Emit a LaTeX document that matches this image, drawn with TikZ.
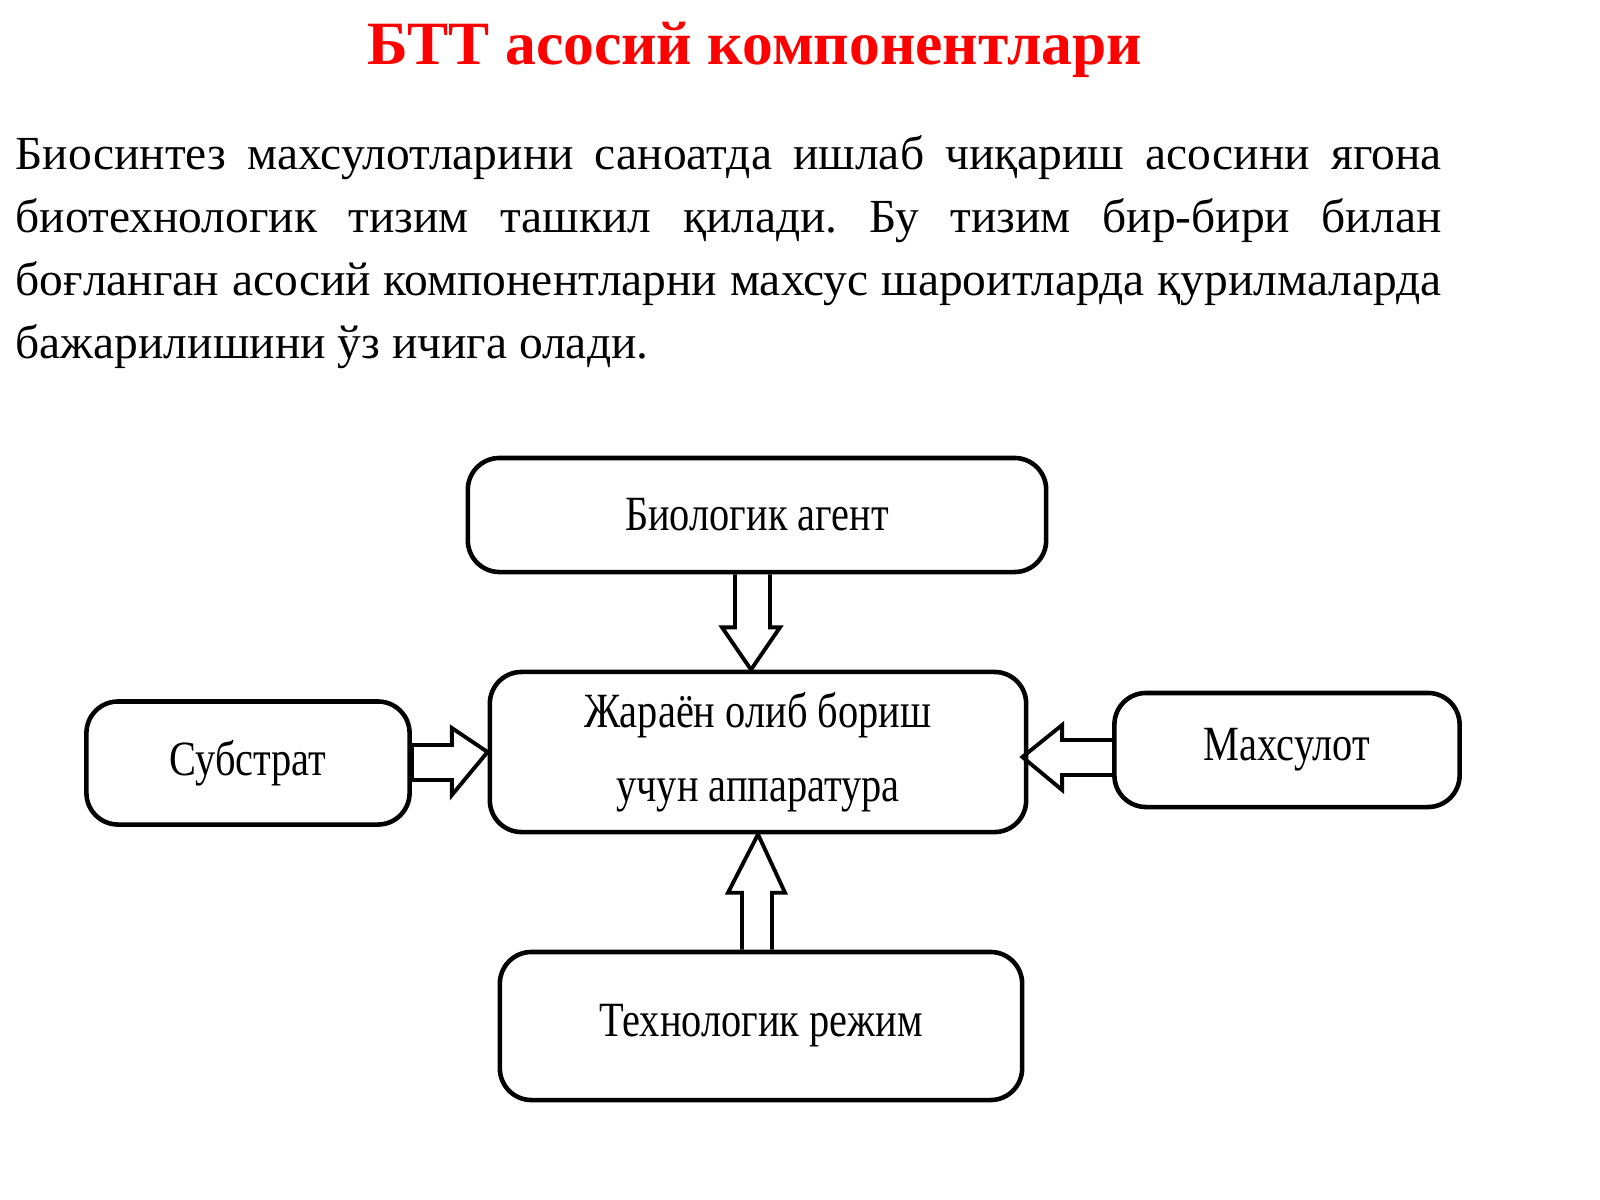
\documentclass[tikz,border=0pt]{standalone}
\usepackage{fontspec}
\setmainfont{Liberation Serif}
\usetikzlibrary{calc,positioning}
\frenchspacing
\begin{document}
\begin{tikzpicture}[x=0.01cm,y=-0.01cm,
    blok/.style={draw,line width=1.3pt,rounded corners=9pt,align=center,
      font=\fontsize{14}{17}\selectfont},
    strelka/.style={draw,line width=1.1pt,line join=miter}]
    \useasboundingbox (0,0) rectangle (1600,1200);
    \node[text=red,font=\bfseries\fontsize{17.5}{20}\selectfont] (sarlavha) at (755,50) {БТТ асосий компонентлари};
    \node[text width=14.25cm,align=justify,inner sep=0pt,anchor=north west,
      font=\fontsize{13.5}{17.9}\selectfont] (matn) at (15,135)
      {Биосинтез махсулотларини саноатда ишлаб чиқариш асосини ягона биотехнологик тизим ташкил қилади. Бу тизим бир-бири билан боғланган асосий компонентларни махсус шароитларда қурилмаларда бажарилишини ўз ичига олади.};

    \node[blok,minimum width=5.78cm,minimum height=1.14cm] (agent) at (757,515) {\scalebox{0.82}[1]{Биологик агент}};
    \node[blok,minimum width=5.36cm,minimum height=1.6cm] (jarayon) at (758,752) {\scalebox{0.82}[1]{Жараён олиб бориш}\\[4pt]\scalebox{0.82}[1]{учун аппаратура}};
    \node[blok,minimum width=3.23cm,minimum height=1.23cm] (substrat) at (248,763) {\scalebox{0.82}[1]{Субстрат}};
    \node[blok,minimum width=3.45cm,minimum height=1.14cm] (mahsulot) at (1287,750) {\scalebox{0.82}[1]{Махсулот}};
    \node[blok,minimum width=5.22cm,minimum height=1.48cm] (rejim) at (761,1026) {\scalebox{0.82}[1]{Технологик режим}};

    % bo'sh strelkalar
    \draw[strelka] ($(agent.south)+(-22,0)$) -- ++(0,53) -- ++(-13,0) -- ($(jarayon.north)+(-7,0)$)
      -- ($(agent.south)+(23,53)$) -- ++(-10,0) -- ++(0,-53);
    \draw[strelka] ($(substrat.east)+(0,-18)$) -- ++(40,0) -- ++(0,-17) -- (jarayon.west)
      -- ($(substrat.east)+(40,32)$) -- ++(0,-15) -- ++(-40,0) -- cycle;
    \draw[strelka] ($(mahsulot.west)+(0,-10)$) -- ++(-50,0) -- ++(0,-15) -- ($(jarayon.east)+(-6,5)$)
      -- ($(mahsulot.west)+(-50,40)$) -- ++(0,-15) -- ++(50,0);
    \draw[strelka] ($(rejim.north)+(-19,0)$) -- ++(0,-57) -- ++(-14,0) -- (jarayon.south)
      -- ($(rejim.north)+(24,-57)$) -- ++(-13,0) -- ++(0,57);
\end{tikzpicture}
\end{document}
